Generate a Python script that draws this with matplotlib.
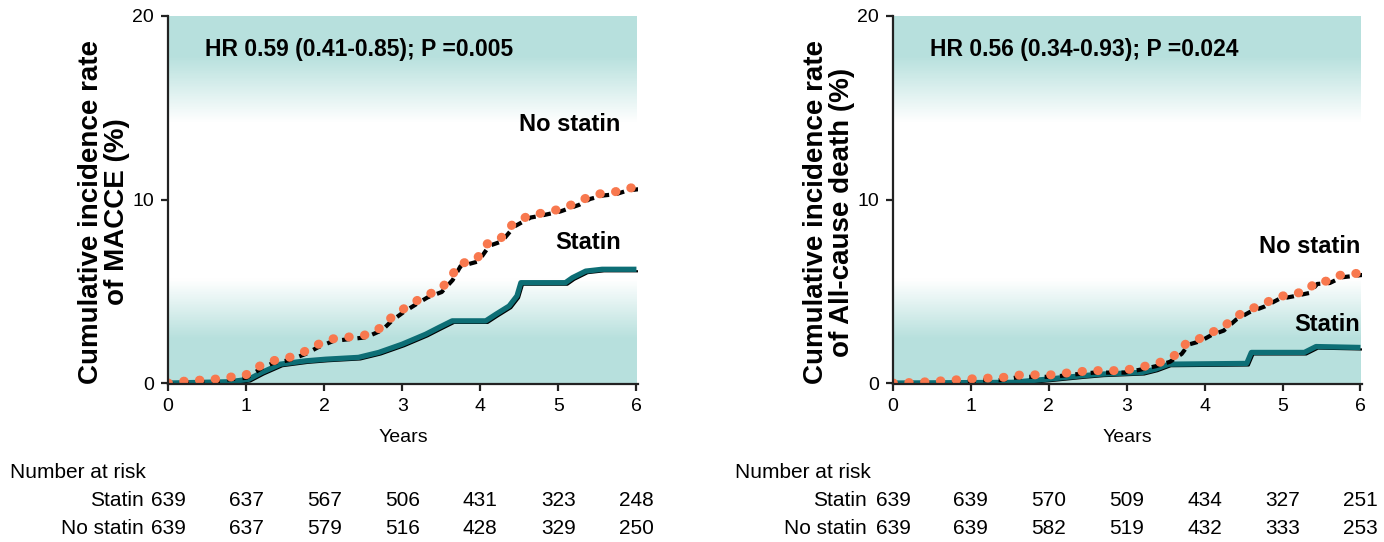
import numpy as np
import matplotlib
matplotlib.use("Agg")
import matplotlib.pyplot as plt
import matplotlib.transforms as mtransforms
from matplotlib.colors import LinearSegmentedColormap

FONT = ["Liberation Sans", "DejaVu Sans"]
plt.rcParams["font.family"] = FONT

# ---- data -------------------------------------------------------------
years_ticks = [0, 1, 2, 3, 4, 5, 6]

# MACCE panel
macce_nostatin_t = [0.0, 0.32, 0.52, 0.73, 0.98, 1.18, 1.32, 1.53, 1.74, 1.90, 2.09,
                    2.29, 2.51, 2.72, 2.84, 2.99, 3.14, 3.30, 3.48, 3.62, 3.72,
                    3.95, 4.09, 4.25, 4.41, 4.62, 4.74, 5.00, 5.24, 5.38, 5.55,
                    5.71, 5.86, 6.00]
macce_nostatin_v = [0.0, 0.16, 0.16, 0.30, 0.40, 0.94, 1.20, 1.36, 1.70, 2.07, 2.40,
                    2.50, 2.60, 3.00, 3.50, 3.97, 4.37, 4.78, 5.07, 5.72, 6.47,
                    6.74, 7.59, 7.83, 8.64, 9.13, 9.22, 9.46, 9.82, 10.14, 10.33,
                    10.40, 10.60, 10.67]
macce_statin_t = [0.0, 0.78, 1.03, 1.20, 1.44, 1.76, 2.02, 2.44, 2.70, 3.00, 3.30,
                  3.47, 3.64, 4.07, 4.20, 4.37, 4.47, 4.52, 5.09, 5.18, 5.35,
                  5.56, 6.00]
macce_statin_v = [0.0, 0.07, 0.20, 0.58, 1.03, 1.21, 1.30, 1.40, 1.67, 2.12, 2.66,
                  3.03, 3.39, 3.39, 3.75, 4.20, 4.75, 5.47, 5.47, 5.74, 6.10,
                  6.20, 6.20]

# All-cause death panel
death_nostatin_t = [0.0, 0.30, 0.51, 0.75, 0.97, 1.18, 1.36, 1.54, 1.66, 1.85, 2.03,
                    2.21, 2.39, 2.56, 2.77, 2.95, 3.16, 3.35, 3.53, 3.68, 3.77,
                    3.92, 4.06, 4.22, 4.38, 4.55, 4.75, 4.93, 5.12, 5.32, 5.42,
                    5.58, 5.73, 6.00]
death_nostatin_v = [0.0, 0.04, 0.09, 0.16, 0.22, 0.27, 0.27, 0.40, 0.45, 0.45, 0.45,
                    0.54, 0.62, 0.68, 0.68, 0.68, 0.85, 1.03, 1.27, 1.70, 2.21,
                    2.39, 2.72, 2.97, 3.57, 3.97, 4.29, 4.69, 4.84, 5.02, 5.51,
                    5.56, 5.87, 6.00]
death_statin_t = [0.0, 1.53, 2.00, 2.43, 2.68, 3.20, 3.37, 3.54, 4.54, 4.60, 5.28,
                  5.43, 6.00]
death_statin_v = [0.0, 0.04, 0.22, 0.40, 0.49, 0.58, 0.76, 1.03, 1.07, 1.67, 1.67,
                  1.99, 1.94]

# Numbers at risk
macce_risk_statin = [639, 637, 567, 506, 431, 323, 248]
macce_risk_nostatin = [639, 637, 579, 516, 428, 329, 250]
death_risk_statin = [639, 639, 570, 509, 434, 327, 251]
death_risk_nostatin = [639, 639, 582, 519, 432, 333, 253]

macce_hr = "HR 0.59 (0.41-0.85); P =0.005"
death_hr = "HR 0.56 (0.34-0.93); P =0.024"

# ---- styling ------------------------------------------------------------
TEAL_BG = (0.72, 0.88, 0.868)
TEAL_LINE = "#0d6e75"
ORANGE = "#f8784e"

bg_cmap = LinearSegmentedColormap.from_list(
    "bg", [(0.0, TEAL_BG), (0.11, TEAL_BG), (0.29, (1, 1, 1)),
           (0.72, (1, 1, 1)), (0.88, TEAL_BG), (1.0, TEAL_BG)])

fig = plt.figure(figsize=(13.84, 5.42), dpi=100)

ax_left = fig.add_axes([168 / 1384, 1 - 384 / 542, 470 / 1384, 368 / 542])
ax_right = fig.add_axes([893 / 1384, 1 - 384 / 542, 469 / 1384, 368 / 542])


def draw_panel(ax, ns_t, ns_v, s_t, s_v, hr, ylabel_lines, ylabel_x,
               lab_x, ns_lab_y, s_lab_y, risk_s, risk_ns, risk_lab_x,
               risk_title_x):
    # gradient background
    grad = np.linspace(0, 1, 400).reshape(-1, 1)
    ax.imshow(grad, cmap=bg_cmap, aspect="auto", extent=[0, 6, 0, 20],
              origin="upper", zorder=0, interpolation="bilinear")
    ax.set_xlim(0, 6.02)
    ax.set_ylim(-0.05, 20)

    shadow = mtransforms.offset_copy(ax.transData, fig=fig, x=2.0, y=-2.0,
                                     units="dots")
    # statin: black shadow + teal line
    ax.plot(s_t, s_v, color="black", lw=1.6, transform=shadow, zorder=2,
            solid_capstyle="butt")
    ax.plot(s_t, s_v, color=TEAL_LINE, lw=3.8, zorder=3,
            solid_capstyle="butt", solid_joinstyle="round")
    # no statin: black dashes + orange dots
    ax.plot(ns_t, ns_v, color="black", lw=3.0, transform=shadow, zorder=4,
            linestyle=(1.0, (1.9, 1.8)), dash_capstyle="butt")
    ax.plot(ns_t, ns_v, color=ORANGE, lw=6.5, zorder=5,
            linestyle=(0, (0.05, 1.7)), dash_capstyle="round")

    for side in ("top", "right"):
        ax.spines[side].set_visible(False)
    for side in ("left", "bottom"):
        ax.spines[side].set_linewidth(1.6)
        ax.spines[side].set_color("#222222")
        ax.spines[side].set_zorder(6)
    ax.set_xticks(years_ticks)
    ax.set_yticks([0, 10, 20])
    ax.tick_params(axis="both", length=5, width=1.6, color="#222222",
                   labelsize=14, pad=5)
    ax.set_xlabel("Years", fontsize=14, labelpad=10)

    ax.text(0.47, 18.15, hr, fontsize=16.5, fontweight="bold",
            va="center", ha="left", zorder=7)
    ax.text(lab_x, ns_lab_y, "No statin", fontsize=17,
            fontweight="bold", ha="right", va="center", zorder=7)
    ax.text(lab_x, s_lab_y, "Statin", fontsize=17,
            fontweight="bold", ha="right", va="center", zorder=7)

    fig.text(ylabel_x, 1 - 212 / 542, ylabel_lines, rotation=90, fontsize=20,
             fontweight="bold", ha="center", va="center", linespacing=1.0)

    # number at risk table
    row_tr = mtransforms.blended_transform_factory(ax.transData, fig.transFigure)
    fig.text(risk_title_x, 1 - 472 / 542, "Number at risk", fontsize=15,
             ha="left", va="center")
    for y_px, name, vals in ((501, "Statin", risk_s), (528, "No statin", risk_ns)):
        yf = 1 - y_px / 542
        fig.text(risk_lab_x, yf, name, fontsize=15, ha="right", va="center")
        for x, v in zip(years_ticks, vals):
            ax.text(x, yf, str(v), transform=row_tr, fontsize=15,
                    ha="center", va="center", clip_on=False)


draw_panel(ax_left, macce_nostatin_t, macce_nostatin_v, macce_statin_t,
           macce_statin_v, macce_hr,
           "Cumulative incidence rate\nof MACCE (%)", 104 / 1384,
           5.8, 14.1, 7.66, macce_risk_statin, macce_risk_nostatin,
           144 / 1384, 10 / 1384)
draw_panel(ax_right, death_nostatin_t, death_nostatin_v, death_statin_t,
           death_statin_v, death_hr,
           "Cumulative incidence rate\nof All-cause death (%)", 829 / 1384,
           6.0, 7.45, 3.2, death_risk_statin, death_risk_nostatin,
           867 / 1384, 735 / 1384)

fig.savefig("out.png", dpi=100)
